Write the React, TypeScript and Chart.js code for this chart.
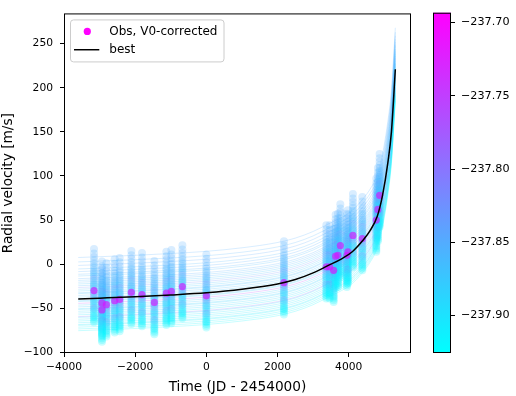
import React, { useEffect, useRef } from "react";
import { Chart, registerables } from "chart.js";

Chart.register(...registerables);

// ---- data ----
const obsTime = [-3157, -2933, -2933, -2809, -2576, -2435, -2107, -1809, -1461, -1124, -983, -674, 0, 2180, 3371, 3463, 3576, 3632, 3697, 3764, 3949, 3978, 4118, 4382, 4775, 4820, 4868];
const obsRV = [-30, -44, -52, -46, -41.5, -40, -32, -34.5, -43.5, -33, -31, -25.5, -36, -21, -3, -3, -7, 9, 10, 21, 10, 14, 32.5, 29, 50, 62, 78];

const bestTime = [-3600, -3000, -2000, -1000, 0, 1000, 2000, 2500, 3000, 3400, 3800, 4100, 4400, 4600, 4800, 4950, 5100, 5200, 5310];
const bestRV = [-39.5, -38.6, -37, -35, -32.5, -28.5, -22.5, -17.5, -10, -2, 6, 14, 27, 38, 54, 78, 115, 150, 221];

// posterior samples: V0 shift (m/s) and log-likelihood (colour)
const sampleV0 = [-36, -34, -32, -30, -29, -27, -25, -23, -21, -20, -18, -16, -14, -12, -11, -9, -7, -5, -3, -2, 0, 2, 4, 6, 7, 9, 11, 13, 15, 17, 19, 21, 23, 26, 28, 31, 34, 38, 42, 47];
const sampleLogL = [-237.918, -237.916, -237.914, -237.91, -237.905, -237.9, -237.91, -237.895, -237.89, -237.8, -237.9, -237.885, -237.89, -237.88, -237.885, -237.875, -237.88, -237.76, -237.875, -237.87, -237.88, -237.87, -237.865, -237.87, -237.86, -237.875, -237.865, -237.82, -237.86, -237.87, -237.855, -237.86, -237.85, -237.865, -237.855, -237.85, -237.86, -237.845, -237.855, -237.85];

const xTicks = [-4000, -2000, 0, 2000, 4000];
const yTicks = [-100, -50, 0, 50, 100, 150, 200, 250];
const cbarTicks = [-237.9, -237.85, -237.8, -237.75, -237.7];
const cbarMin = -237.9256;
const cbarMax = -237.6933;

const xTitle = "Time (JD - 2454000)";
const yTitle = "Radial velocity [m/s]";
const obsLabel = "Obs, V0-corrected";
const bestLabel = "best";

const FONT = "'DejaVu Sans', sans-serif";
Chart.defaults.font.family = FONT;

function cool(v: number, a: number) {
  let f = (v - cbarMin) / (cbarMax - cbarMin);
  f = Math.max(0, Math.min(1, f));
  return `rgba(${Math.round(255 * f)},${Math.round(255 * (1 - f))},255,${a})`;
}

const fmt = (v: number, d = 0) => {
  const s = d ? Math.abs(v).toFixed(d) : String(Math.abs(v));
  return (v < 0 ? "\u2212" : "") + s;
};

const framePlugin = {
  id: "frameLegend",
  afterDatasetsDraw(chart: any) {
    const { ctx, chartArea: a } = chart;
    ctx.save();
    ctx.strokeStyle = "#000";
    ctx.lineWidth = 1;
    ctx.strokeRect(a.left + 0.5, a.top + 0.5, a.right - a.left - 1, a.bottom - a.top - 1);
    // legend
    const lx = a.left + 6.5, ly = a.top + 6.5, lw = 153.5, lh = 42;
    ctx.beginPath();
    const r = 3;
    ctx.moveTo(lx + r, ly);
    ctx.lineTo(lx + lw - r, ly);
    ctx.arcTo(lx + lw, ly, lx + lw, ly + r, r);
    ctx.lineTo(lx + lw, ly + lh - r);
    ctx.arcTo(lx + lw, ly + lh, lx + lw - r, ly + lh, r);
    ctx.lineTo(lx + r, ly + lh);
    ctx.arcTo(lx, ly + lh, lx, ly + lh - r, r);
    ctx.lineTo(lx, ly + r);
    ctx.arcTo(lx, ly, lx + r, ly, r);
    ctx.closePath();
    ctx.fillStyle = "rgba(255,255,255,0.8)";
    ctx.fill();
    ctx.strokeStyle = "#cccccc";
    ctx.stroke();
    const ds = chart.data.datasets;
    const obsDs = ds.find((d: any) => d.label === obsLabel);
    const bestDs = ds.find((d: any) => d.label === bestLabel);
    ctx.fillStyle = "#ff00ff";
    ctx.beginPath();
    ctx.arc(a.left + 23.3, a.top + 18, 3.6, 0, Math.PI * 2);
    ctx.fill();
    ctx.strokeStyle = "#000";
    ctx.lineWidth = 1.5;
    ctx.beginPath();
    ctx.moveTo(a.left + 10, a.top + 36.3);
    ctx.lineTo(a.left + 35.3, a.top + 36.3);
    ctx.stroke();
    ctx.fillStyle = "#000";
    ctx.font = `12px ${FONT}`;
    ctx.textBaseline = "middle";
    ctx.textAlign = "left";
    ctx.fillText(obsDs.label, a.left + 45.3, a.top + 18);
    ctx.fillText(bestDs.label, a.left + 45.3, a.top + 36.3);
    ctx.restore();
  },
};

const cbarPlugin = {
  id: "cbarFill",
  beforeDatasetsDraw(chart: any) {
    const { ctx, chartArea: a } = chart;
    ctx.save();
    const g = ctx.createLinearGradient(0, a.bottom, 0, a.top);
    g.addColorStop(0, cool(cbarMin, 1));
    g.addColorStop(1, cool(cbarMax, 1));
    ctx.fillStyle = g;
    ctx.fillRect(a.left, a.top, a.right - a.left, a.bottom - a.top);
    ctx.strokeStyle = "#000";
    ctx.lineWidth = 1;
    ctx.strokeRect(a.left + 0.5, a.top + 0.5, a.right - a.left - 1, a.bottom - a.top - 1);
    ctx.restore();
  },
};

export default function App() {
  const mainRef = useRef<HTMLCanvasElement>(null);
  const cbarRef = useRef<HTMLCanvasElement>(null);

  useEffect(() => {
    const curves = sampleV0.map((off, i) => ({
      label: "curve" + i,
      data: bestTime.map((t, k) => ({ x: t, y: bestRV[k] + off })),
      showLine: true,
      borderColor: cool(sampleLogL[i], 0.22),
      borderWidth: 1,
      pointRadius: 0,
      cubicInterpolationMode: "monotone",
      order: 4,
    }));
    const postPts = sampleV0.map((off, i) => ({
      label: "post" + i,
      data: obsTime.map((t, k) => ({ x: t, y: obsRV[k] + off })),
      backgroundColor: cool(sampleLogL[i], 0.22),
      borderWidth: 0,
      pointRadius: 4,
      order: 3,
    }));
    const obs = {
      label: obsLabel,
      data: obsTime.map((t, k) => ({ x: t, y: obsRV[k] })),
      backgroundColor: "rgba(215,20,255,0.65)",
      borderWidth: 0,
      pointRadius: 3.6,
      order: 2,
    };
    const best = {
      label: bestLabel,
      data: bestTime.map((t, k) => ({ x: t, y: bestRV[k] })),
      showLine: true,
      borderColor: "#000",
      borderWidth: 1.5,
      pointRadius: 0,
      cubicInterpolationMode: "monotone",
      order: 1,
    };

    const tickGrid = { drawOnChartArea: false, drawTicks: true, tickLength: 4, color: "#000", lineWidth: 1 };

    const c1 = new Chart(mainRef.current as HTMLCanvasElement, {
      type: "scatter",
      data: { datasets: [...curves, ...postPts, obs, best] as any },
      options: {
        responsive: false,
        animation: false,
        devicePixelRatio: 1,
        layout: { padding: { left: 0, right: 105, top: 8, bottom: 0 } },
        plugins: { legend: { display: false }, tooltip: { enabled: false } },
        scales: {
          x: {
            type: "linear",
            min: -4000,
            max: 5750,
            afterBuildTicks: (s: any) => { s.ticks = xTicks.map((v) => ({ value: v })); },
            afterFit: (s: any) => { s.height = 43; },
            grid: tickGrid,
            border: { display: false },
            ticks: { autoSkip: false, maxRotation: 0, color: "#000", padding: 4, font: { size: 10.7 }, callback: (v: any) => fmt(Number(v)) },
            title: { display: true, text: xTitle, color: "#000", font: { size: 13.7 }, padding: { top: 0, bottom: 0 } },
          },
          y: {
            type: "linear",
            min: -100.8,
            max: 284.3,
            afterBuildTicks: (s: any) => { s.ticks = yTicks.map((v) => ({ value: v })); },
            afterFit: (s: any) => { s.width = 64; },
            grid: tickGrid,
            border: { display: false },
            ticks: { autoSkip: false, color: "#000", padding: 7, font: { size: 10.7 }, callback: (v: any) => fmt(Number(v)) },
            title: { display: true, text: yTitle, color: "#000", font: { size: 13.7 }, padding: { top: 0, bottom: 0 } },
          },
        },
      },
      plugins: [framePlugin],
    } as any);

    const c2 = new Chart(cbarRef.current as HTMLCanvasElement, {
      type: "scatter",
      data: { datasets: [] },
      options: {
        responsive: false,
        animation: false,
        devicePixelRatio: 1,
        layout: { padding: { left: 0, right: 0, top: 8, bottom: 43 } },
        plugins: { legend: { display: false }, tooltip: { enabled: false } },
        scales: {
          x: { type: "linear", display: false, min: 0, max: 1 },
          y: {
            type: "linear",
            position: "right",
            min: cbarMin,
            max: cbarMax,
            afterBuildTicks: (s: any) => { s.ticks = cbarTicks.map((v) => ({ value: v })); },
            afterFit: (s: any) => { s.width = 65; },
            grid: tickGrid,
            border: { display: false },
            ticks: { autoSkip: false, color: "#000", padding: 6, font: { size: 11.2 }, callback: (v: any) => fmt(Number(v), 2) },
          },
        },
      },
      plugins: [cbarPlugin],
    } as any);

    return () => {
      c1.destroy();
      c2.destroy();
    };
  }, []);

  return (
    <div style={{ position: "absolute", left: 0, top: 0, width: 516, height: 396, background: "#fff" }}>
      <canvas ref={mainRef} width={516} height={396} style={{ position: "absolute", left: 0, top: 0 }} />
      <canvas ref={cbarRef} width={83} height={396} style={{ position: "absolute", left: 433, top: 0 }} />
    </div>
  );
}
